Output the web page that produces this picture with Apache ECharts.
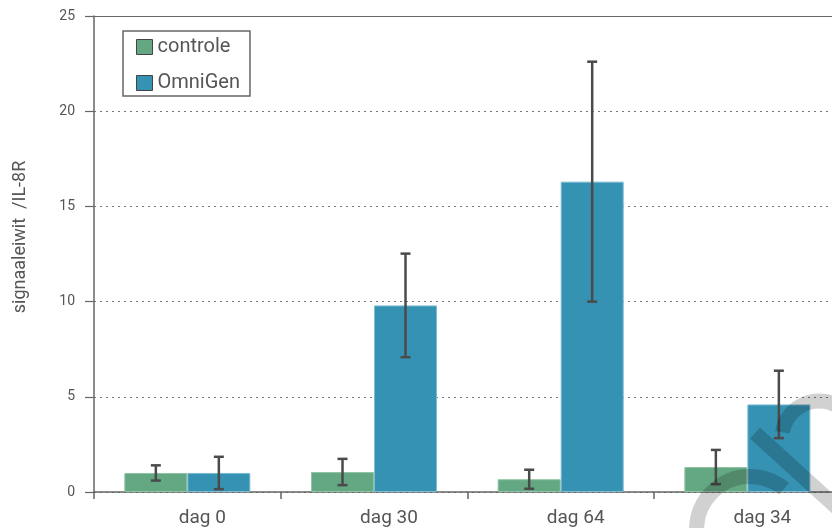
<!DOCTYPE html>
<html><head><meta charset="utf-8">
<script src="https://cdn.jsdelivr.net/npm/echarts@6/dist/echarts.min.js"></script>
<style>html,body{margin:0;padding:0;background:#fff}#c{width:832px;height:528px}</style>
</head><body><div id="c"></div>
<script>
const categories = ['dag 0', 'dag 30', 'dag 64', 'dag 34'];
const controle = [1.0, 1.05, 0.67, 1.31];
const controleErr = [0.4, 0.69, 0.5, 0.9];
const omnigen = [1.0, 9.8, 16.3, 4.6];
const omnigenErr = [0.85, 2.72, 6.3, 1.77];
const yTicks = [0, 5, 10, 15, 20, 25];
const yAxisTitle = 'signaaleiwit  /IL-8R';

const FONT = 'Roboto';
const TXT = '#555';
const BAR_FRAC = 0.3375;
const WM = 'rgba(0,0,0,0.18)';

function errSeries(vals, errs, side) {
  return {
    type: 'custom',
    z: 10,
    silent: true,
    data: vals.map((v, i) => [i, v, errs[i]]),
    renderItem: function (params, api) {
      const i = api.value(0), v = api.value(1), e = api.value(2);
      const band = api.size([1, 0])[0];
      const off = side * band * BAR_FRAC / 2;
      const top = api.coord([i, v + e]);
      const bot = api.coord([i, Math.max(v - e, 0)]);
      const x = top[0] + off;
      const cap = 5;
      const style = { stroke: '#4a4a4a', lineWidth: 2.5 };
      return {
        type: 'group',
        children: [
          { type: 'line', shape: { x1: x, y1: top[1], x2: x, y2: bot[1] }, style },
          { type: 'line', shape: { x1: x - cap, y1: top[1], x2: x + cap, y2: top[1] }, style },
          { type: 'line', shape: { x1: x - cap, y1: bot[1], x2: x + cap, y2: bot[1] }, style }
        ]
      };
    }
  };
}

const chart = echarts.init(document.getElementById('c'));
chart.setOption({
  animation: false,
  textStyle: { fontFamily: FONT },
  grid: { left: 94, top: 16, width: 746.7, bottom: 36, outerBoundsMode: 'none', containLabel: false },
  legend: {
    left: 123, top: 31, orient: 'vertical',
    backgroundColor: '#fff',
    borderColor: '#666', borderWidth: 1.5,
    padding: [6, 10, 3, 13], itemGap: 16,
    itemWidth: 16, itemHeight: 15,
    textStyle: { color: TXT, fontSize: 20, fontFamily: FONT },
    data: [
      { name: 'controle', icon: 'rect', itemStyle: { borderColor: '#444', borderWidth: 1 } },
      { name: 'OmniGen', icon: 'rect', itemStyle: { borderColor: '#444', borderWidth: 1 } }
    ]
  },
  xAxis: [{
    type: 'category', data: categories,
    axisLine: { show: true, lineStyle: { color: '#666', width: 1.5 } },
    axisTick: { show: true, length: 7, lineStyle: { color: '#666', width: 1.5 } },
    axisLabel: { color: TXT, fontSize: 19, margin: 17, padding: [0, 0, 0, 30] },
    splitLine: { show: false }
  }, {
    type: 'category', data: categories, position: 'top',
    axisLine: { show: true, lineStyle: { color: '#666', width: 1.2 } },
    axisTick: { show: false }, axisLabel: { show: false }
  }],
  yAxis: {
    type: 'value', min: 0, max: 25, interval: 5,
    axisLine: { show: true, lineStyle: { color: '#666', width: 1.5 } },
    axisTick: { show: true, length: 9, lineStyle: { color: '#666', width: 1.2 } },
    axisLabel: { color: TXT, fontSize: 14, margin: 19,
      formatter: v => yTicks.includes(v) ? String(v) : '' },
    splitLine: { show: true, lineStyle: { color: '#777', type: [2, 4], width: 1 } }
  },
  series: [
    { name: 'controle', type: 'bar', data: controle, barWidth: (BAR_FRAC * 100) + '%', barGap: '0%',
      itemStyle: { color: '#63a882', borderColor: '#8fc4a4', borderWidth: 1 } },
    { name: 'OmniGen', type: 'bar', data: omnigen, barWidth: (BAR_FRAC * 100) + '%', barGap: '0%',
      itemStyle: { color: '#3592b3', borderColor: '#7dbcd3', borderWidth: 1 } },
    errSeries(controle, controleErr, -1),
    errSeries(omnigen, omnigenErr, 1)
  ],
  graphic: [
    { type: 'text', id: 'ytitle', silent: true, x: 20, y: 237, rotation: Math.PI / 2,
      style: { text: yAxisTitle, fill: TXT, font: '18px Roboto', align: 'center', verticalAlign: 'middle' } },
    { type: 'arc', id: 'wm1', z: 100, silent: true,
      shape: { cx: 750, cy: 530, r: 53.5, startAngle: Math.PI * 1.0, endAngle: Math.PI * 1.72 },
      style: { stroke: WM, lineWidth: 15, fill: null } },
    { type: 'line', id: 'wm2', z: 100, silent: true,
      shape: { x1: 755, y1: 433, x2: 845, y2: 515 },
      style: { stroke: WM, lineWidth: 15 } },
    { type: 'arc', id: 'wm3', z: 100, silent: true,
      shape: { cx: 819, cy: 438, r: 37, startAngle: Math.PI * 1.05, endAngle: Math.PI * 1.9 },
      style: { stroke: WM, lineWidth: 15, fill: null } }
  ]
});
</script>
</body></html>
